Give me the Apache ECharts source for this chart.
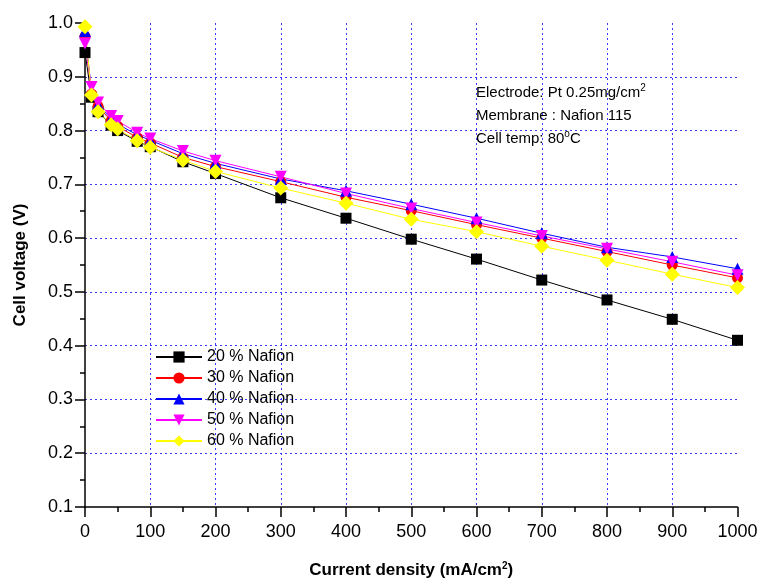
<!DOCTYPE html>
<html>
<head>
<meta charset="utf-8">
<script src="https://cdn.jsdelivr.net/npm/echarts@6/dist/echarts.min.js"></script>
<style>
  html, body { margin: 0; padding: 0; background: #fff; }
  #main { width: 760px; height: 579px; }
</style>
</head>
<body>
<div id="main"></div>
<script>
// current density (mA/cm2)
var currentDensity = [0, 10, 20, 40, 50, 80, 100, 150, 200, 300, 400, 500, 600, 700, 800, 900, 1000];
// cell voltage (V) for each Nafion content
var nafion20 = [0.945, 0.862, 0.835, 0.810, 0.800, 0.780, 0.770, 0.742, 0.720, 0.675, 0.637, 0.598, 0.561, 0.522, 0.485, 0.449, 0.410];
var nafion30 = [0.975, 0.868, 0.845, 0.818, 0.808, 0.787, 0.777, 0.750, 0.733, 0.705, 0.676, 0.651, 0.625, 0.600, 0.575, 0.550, 0.526];
var nafion40 = [0.985, 0.872, 0.848, 0.822, 0.812, 0.792, 0.782, 0.757, 0.739, 0.710, 0.688, 0.663, 0.637, 0.609, 0.583, 0.565, 0.543];
var nafion50 = [0.962, 0.881, 0.852, 0.827, 0.818, 0.796, 0.785, 0.762, 0.744, 0.714, 0.683, 0.655, 0.629, 0.604, 0.580, 0.556, 0.531];
var nafion60 = [0.993, 0.866, 0.835, 0.811, 0.803, 0.781, 0.769, 0.745, 0.724, 0.693, 0.665, 0.635, 0.612, 0.585, 0.559, 0.533, 0.508];
var seriesNames = ['20 % Nafion', '30 % Nafion', '40 % Nafion', '50 % Nafion', '60 % Nafion'];

var font = 'Liberation Sans, Arial, sans-serif';
var gridBlue = '#3b3bff';

function pairs(ys) {
  return currentDensity.map(function (x, i) { return [x, ys[i]]; });
}

var chart = echarts.init(document.getElementById('main'), null, { renderer: 'canvas' });

function mkSeries(name, ys, color, symbol, size, rotate) {
  return {
    name: name,
    type: 'line',
    data: pairs(ys),
    symbol: symbol,
    symbolSize: size,
    symbolRotate: rotate || 0,
    showAllSymbol: true,
    lineStyle: { color: color, width: 1 },
    itemStyle: { color: color },
    emphasis: { disabled: true },
    animation: false
  };
}

chart.setOption({
  animation: false,
  textStyle: { fontFamily: font },
  grid: { left: 85, right: 22.5, top: 23, bottom: 72, containLabel: false, outerBoundsMode: 'none' },
  legend: {
    orient: 'vertical',
    left: 150,
    top: 344,
    itemWidth: 46,
    itemHeight: 14,
    itemGap: 5,
    textStyle: { fontSize: 16, color: '#000', fontFamily: font },
    data: seriesNames
  },
  xAxis: {
    type: 'value',
    min: 0, max: 1000, interval: 100,
    name: '{a|Current density (mA/cm}{s|2}{a|)}',
    nameLocation: 'middle',
    nameGap: 54,
    nameTextStyle: {
      rich: {
        a: { fontSize: 17, fontWeight: 'bold', color: '#000', fontFamily: font },
        s: { fontSize: 10, fontWeight: 'bold', color: '#000', fontFamily: font, padding: [0, 0, 9, 0] }
      }
    },
    axisLine: { show: true, onZero: false, lineStyle: { color: '#000', width: 1.5 } },
    axisTick: { show: true, inside: false, length: 10, lineStyle: { color: '#000', width: 1.5 } },
    minorTick: { show: true, splitNumber: 2, length: 5, lineStyle: { color: '#000', width: 1.5 } },
    axisLabel: {
      fontSize: 18, color: '#000', margin: 16, fontFamily: font,
      formatter: function (v) { return String(v); }
    },
    splitLine: {
      show: true,
      lineStyle: {
        type: [2, 3],
        width: 1,
        color: ['transparent', gridBlue, gridBlue, gridBlue, gridBlue, gridBlue, gridBlue, gridBlue, gridBlue, gridBlue, 'transparent']
      }
    }
  },
  yAxis: {
    type: 'value',
    min: 0.1, max: 1.0, interval: 0.1,
    name: 'Cell voltage (V)',
    nameLocation: 'middle',
    nameGap: 56,
    nameTextStyle: { fontSize: 17, fontWeight: 'bold', color: '#000', fontFamily: font },
    axisLine: { show: true, onZero: false, lineStyle: { color: '#000', width: 1.5 } },
    axisTick: { show: true, inside: false, length: 10, lineStyle: { color: '#000', width: 1.5 } },
    minorTick: { show: true, splitNumber: 2, length: 5, lineStyle: { color: '#000', width: 1.5 } },
    axisLabel: {
      fontSize: 18, color: '#000', margin: 12, fontFamily: font,
      formatter: function (v) { return v.toFixed(1); }
    },
    splitLine: {
      show: true,
      lineStyle: {
        type: [2, 3],
        width: 1,
        color: ['transparent', gridBlue, gridBlue, gridBlue, gridBlue, gridBlue, gridBlue, gridBlue, gridBlue, 'transparent']
      }
    }
  },
  graphic: [
    {
      type: 'text', left: 476, top: 83, silent: true,
      style: {
        text: '{a|Electrode: Pt 0.25mg/cm}{s|2}\n{a|Membrane : Nafion 115}\n{a|Cell temp: 80}{s|o}{a|C}',
        rich: {
          a: { fontSize: 15, fill: '#000', fontFamily: font, lineHeight: 23 },
          s: { fontSize: 10, fill: '#000', fontFamily: font, lineHeight: 23, padding: [0, 0, 10, 0] }
        }
      }
    }
  ],
  series: [
    mkSeries(seriesNames[0], nafion20, '#000000', 'rect', 11),
    mkSeries(seriesNames[1], nafion30, '#ff0000', 'circle', 11),
    mkSeries(seriesNames[2], nafion40, '#0000ff', 'triangle', 12),
    mkSeries(seriesNames[3], nafion50, '#ff00ff', 'triangle', 12, 180),
    mkSeries(seriesNames[4], nafion60, '#ffff00', 'diamond', 15)
  ]
});
</script>
</body>
</html>
